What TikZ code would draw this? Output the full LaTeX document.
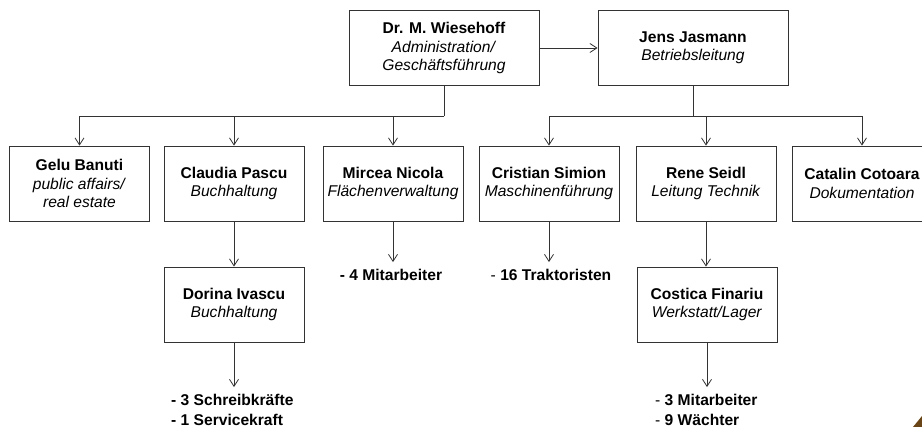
\documentclass[tikz,border=0pt]{standalone}
\usepackage{fontspec}
\setmainfont{Liberation Sans}
\usetikzlibrary{arrows.meta}
\definecolor{bark}{RGB}{105,68,22}
\begin{document}
\begin{tikzpicture}[x=1pt, y=-1pt, >={Straight Barb[length=7pt,width=9pt]},
		font=\fontsize{15.6}{18.5}\selectfont,
		box/.style={draw=black!80, line width=0.8pt, minimum width=140pt,
			minimum height=75pt, align=center, inner sep=2pt},
		staff/.style={align=left, inner sep=3pt, font=\fontsize{15.6}{20}\selectfont\bfseries},
		link/.style={draw=black!80, line width=0.8pt}]
				\useasboundingbox (0,0) rectangle (922,427);
				\clip (0,0) rectangle (922,427);
				% head
				\node [box, minimum width=190pt] (wies) at (444,48)
					{\textbf{Dr. M. Wiesehoff}\\\textit{Administration/}\\\textit{Geschäftsführung}};
				\node [box, minimum width=190pt] (jasm) at (693,48)
					{\textbf{Jens Jasmann}\\\textit{Betriebsleitung}};
				\draw[link, ->] (wies) -- (jasm);
				% second row
				\node [box] (banu) at (79.5,183.5) {\textbf{Gelu Banuti}\\\textit{public affairs/}\\\textit{real estate}};
				\node [box] (pasc) at (234,183.5) {\textbf{Claudia Pascu}\\\textit{Buchhaltung}};
				\node [box] (nico) at (393,183.5) {\textbf{Mircea Nicola}\\\textit{Flächenverwaltung}};
				\node [box] (simi) at (549,183.5) {\textbf{Cristian Simion}\\\textit{Maschinenführung}};
				\node [box] (seid) at (706,183.5) {\textbf{Rene Seidl}\\\textit{Leitung Technik}};
				\node [box] (coto) at (862,183.5) {\textbf{Catalin Cotoara}\\\textit{Dokumentation}};
				\coordinate (hubA) at (444,116);
				\coordinate (hubB) at (693,116);
				\draw[link] (wies.south) -- (hubA);
				\draw[link] (jasm.south) -- (hubB);
				\foreach \n in {banu,pasc,nico}
					{
						\draw[link, ->] (hubA) -| (\n.north);
					}
				\foreach \n in {simi,seid,coto}
					{
						\draw[link, ->] (hubB) -| (\n.north);
					}
				% third row
				\node [box] (ivas) at (234,304.5) {\textbf{Dorina Ivascu}\\\textit{Buchhaltung}};
				\node [box] (fina) at (707,304.5) {\textbf{Costica Finariu}\\\textit{Werkstatt/Lager}};
				\draw[link, ->] (pasc) -- (ivas);
				\draw[link, ->] (seid.south) -- (seid.south |- fina.north);
				% staff
				\node [staff] (mita) at (391,275) {- 4 Mitarbeiter};
				\node [staff] (trak) at (551,275) {\mdseries-\ \bfseries16 Traktoristen};
				\node [staff, anchor=west] (schr) at (168,410) {- 3 Schreibkräfte\\- 1 Servicekraft};
				\node [staff, anchor=west] (waec) at (652,410) {\mdseries-\ \bfseries3 Mitarbeiter\\\mdseries-\ \bfseries9 Wächter};
				\draw[link, ->, shorten >=4pt] (nico.south) -- (nico.south |- mita.north);
				\draw[link, ->, shorten >=4pt] (simi.south) -- (simi.south |- trak.north);
				\draw[link, ->, shorten >=4pt] (ivas.south) -- (ivas.south |- schr.north);
				\draw[link, ->, shorten >=4pt] (fina.south) -- (fina.south |- waec.north);
				% corner mark
				\fill[bark] (913,427) -- (922,416) -- (922,427) -- cycle;
			\end{tikzpicture}
\end{document}
